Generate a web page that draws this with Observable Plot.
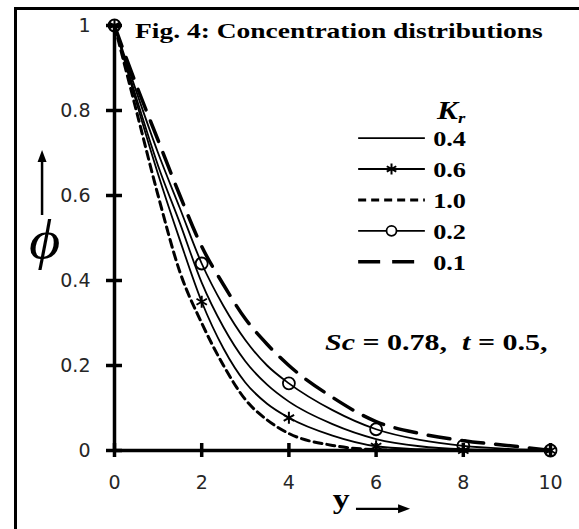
<!DOCTYPE html>
<html><head><meta charset="utf-8">
<script src="https://cdn.jsdelivr.net/npm/d3@7"></script>
<script src="https://cdn.jsdelivr.net/npm/@observablehq/plot@0.6"></script>
<style>
html,body{margin:0;padding:0;background:#fff;}
#wrap{position:relative;width:579px;height:529px;overflow:hidden;}
#frame{position:absolute;left:14px;top:7px;right:-10px;bottom:-10px;border-top:3px solid #000;border-left:3px solid #000;pointer-events:none;z-index:2;}
#wrap svg{position:absolute;left:0;top:0;}
</style></head><body><div id="wrap"><div id="frame"></div></div>
<script>
// ---- data ----
const yPos   = [0, 0.5, 1, 1.5, 2, 2.5, 3, 3.5, 4, 5, 6, 7, 8, 9, 10];
const kr04   = [1, 0.83, 0.67, 0.535, 0.395, 0.29, 0.21, 0.155, 0.115, 0.062, 0.027, 0.010, 0.003, 0.001, 0];
const kr06   = [1, 0.82, 0.65, 0.495, 0.35, 0.24, 0.16, 0.11, 0.077, 0.035, 0.010, 0.003, 0.0, 0.0, 0];
const kr10   = [1, 0.80, 0.60, 0.42, 0.30, 0.20, 0.12, 0.072, 0.04, 0.012, 0.002, 0.0, 0.0, 0.0, 0];
const kr02   = [1, 0.845, 0.70, 0.57, 0.44, 0.34, 0.26, 0.20, 0.158, 0.095, 0.05, 0.025, 0.011, 0.004, 0];
const kr01   = [1, 0.86, 0.73, 0.60, 0.48, 0.39, 0.31, 0.25, 0.20, 0.125, 0.068, 0.04, 0.023, 0.012, 0];
const markerPos   = [0, 2, 4, 6, 8, 10];
const xTicks      = [0, 2, 4, 6, 8, 10];
const xTickLabels = ["0", "2", "4", "6", "8", "10"];
const yTicks      = [0, 0.2, 0.4, 0.6, 0.8, 1];
const yTickLabels = ["0", "0.2", "0.4", "0.6", "0.8", "1"];
const legendKeys  = ["0.4", "0.6", "1.0", "0.2", "0.1"];
const titleText   = "Fig. 4: Concentration distributions";

// ---- series styles ----
const series = [
  {key: "0.4", values: kr04, width: 1.8, dash: null, marker: null},
  {key: "0.6", values: kr06, width: 1.8, dash: null, marker: "asterisk"},
  {key: "1.0", values: kr10, width: 3, dash: "8,5", marker: null},
  {key: "0.2", values: kr02, width: 1.8, dash: null, marker: "circle"},
  {key: "0.1", values: kr01, width: 3.5, dash: "22,12", marker: null}
];
const rows = [];
series.forEach(s => yPos.forEach((y, i) => rows.push({series: s.key, y, phi: s.values[i]})));

const asterisk = {draw(ctx, size) {
  const r = Math.sqrt(size / Math.PI), t = r * Math.sqrt(3) / 2, u = r / 2;
  ctx.moveTo(0, r); ctx.lineTo(0, -r);
  ctx.moveTo(-t, -u); ctx.lineTo(t, u);
  ctx.moveTo(-t, u); ctx.lineTo(t, -u);
}};

const marks = [];
series.forEach(s => {
  marks.push(Plot.line(rows.filter(d => d.series === s.key), {
    x: "y", y: "phi", curve: "monotone-x", stroke: "#000",
    strokeWidth: s.width, strokeDasharray: s.dash || undefined
  }));
});
series.filter(s => s.marker).forEach(s => {
  const pts = rows.filter(d => d.series === s.key && markerPos.includes(d.y));
  marks.push(Plot.dot(pts, s.marker === "circle"
    ? {x: "y", y: "phi", r: 6, stroke: "#000", strokeWidth: 1.8, fill: "none"}
    : {x: "y", y: "phi", r: 6, symbol: asterisk, stroke: "#000", strokeWidth: 2}));
});
// axes
marks.push(Plot.ruleX([0], {y1: 0, y2: 1, stroke: "#000", strokeWidth: 3.5}));
marks.push(Plot.ruleY([0], {x1: 0, x2: 10, stroke: "#000", strokeWidth: 3.5}));
marks.push(Plot.ruleX(xTicks, {x: d => d, y1: 0, y2: 0, insetTop: -7, insetBottom: -7, stroke: "#000", strokeWidth: 3.5}));
marks.push(Plot.ruleY(yTicks, {y: d => d, x1: 0, x2: 0, insetLeft: -8, insetRight: -8, stroke: "#000", strokeWidth: 3.5}));
marks.push(Plot.text(xTicks, {x: d => d, y: 0, text: (d, i) => xTickLabels[i], dy: 32, fontSize: 19, fill: "#262626"}));
marks.push(Plot.text(yTicks, {x: 0, y: d => d, text: (d, i) => yTickLabels[i], dx: -24, textAnchor: "end", fontSize: 19, fill: "#262626"}));

const chart = Plot.plot({
  width: 579, height: 529,
  marginLeft: 114, marginRight: 29, marginTop: 25, marginBottom: 79,
  x: {domain: [0, 10], axis: null},
  y: {domain: [0, 1], axis: null},
  style: {fontFamily: "'DejaVu Sans', sans-serif", fontSize: "19px", background: "transparent", overflow: "visible"},
  marks
});
document.getElementById("wrap").appendChild(chart);

// ---- annotations ----
const sx = chart.scale("x"), sy = chart.scale("y");
const svg = d3.select(chart);
const serif = "'Liberation Serif', 'Times New Roman', serif";
function addText(x, y, parts, size, opts = {}) {
  const stretch = opts.stretch ?? 1.25;
  const g = svg.append("g").attr("transform", `translate(${sx.apply(x)},${sy.apply(y)}) scale(${stretch},1)`);
  const t = g.append("text").attr("font-family", serif).attr("font-size", size)
    .attr("font-weight", opts.weight || "bold").attr("text-anchor", opts.anchor || "start").attr("fill", "#000");
  parts.forEach(p => t.append("tspan").attr("font-style", p.italic ? "italic" : "normal")
    .attr("font-size", p.size || null).attr("dy", p.dy || null).text(p.text));
  return t;
}
addText(0.482, 0.969, [{text: titleText}], 22);
// legend
addText(7.41, 0.778, [{text: "K", italic: true}, {text: "r", italic: true, size: 15, dy: 4}], 25);
const lx1 = 5.6, lx2 = 7.13;
series.forEach(s => {
  const i = legendKeys.indexOf(s.key);
  const yv = 0.734 - i * 0.0728;
  const py = sy.apply(yv);
  svg.append("line").attr("x1", sx.apply(lx1)).attr("x2", sx.apply(lx2)).attr("y1", py).attr("y2", py)
    .attr("stroke", "#000").attr("stroke-width", s.width).attr("stroke-dasharray", s.dash);
  const mx = (sx.apply(lx1) + sx.apply(lx2)) / 2;
  if (s.marker === "circle") svg.append("circle").attr("cx", mx).attr("cy", py).attr("r", 5)
    .attr("fill", "#fff").attr("stroke", "#000").attr("stroke-width", 1.8);
  if (s.marker === "asterisk") svg.append("path").attr("transform", `translate(${mx},${py})`)
    .attr("d", d3.symbol(asterisk, Math.PI * 30)()).attr("stroke", "#000").attr("stroke-width", 2).attr("fill", "none");
  addText(7.32, yv - 8 / 425, [{text: s.key}], 21);
});
addText(4.84, 0.235, [{text: "Sc", italic: true}, {text: " = 0.78,\u00a0 "}, {text: "t", italic: true}, {text: " = 0.5,"}], 24);
// x label
addText(5.02, -0.136, [{text: "y"}], 27);
{
  const yA = sy.apply(-0.136) + 1, x1 = sx.apply(5.55), x2 = sx.apply(6.79);
  svg.append("line").attr("x1", x1).attr("x2", x2 - 9).attr("y1", yA).attr("y2", yA).attr("stroke", "#000").attr("stroke-width", 2.2);
  svg.append("path").attr("d", `M${x2},${yA} L${x2 - 12},${yA - 4.5} L${x2 - 12},${yA + 4.5} Z`).attr("fill", "#000");
}
// y label
addText(-1.95, 0.452, [{text: "\u03D5", italic: true}], 55, {weight: "normal", stretch: 1.1});
{
  const xA = sx.apply(-1.65), yb = sy.apply(0.553), yt = sy.apply(0.706);
  svg.append("line").attr("x1", xA).attr("x2", xA).attr("y1", yb).attr("y2", yt + 9).attr("stroke", "#000").attr("stroke-width", 2.5);
  svg.append("path").attr("d", `M${xA},${yt} L${xA - 4.5},${yt + 12} L${xA + 4.5},${yt + 12} Z`).attr("fill", "#000");
}
</script></body></html>
